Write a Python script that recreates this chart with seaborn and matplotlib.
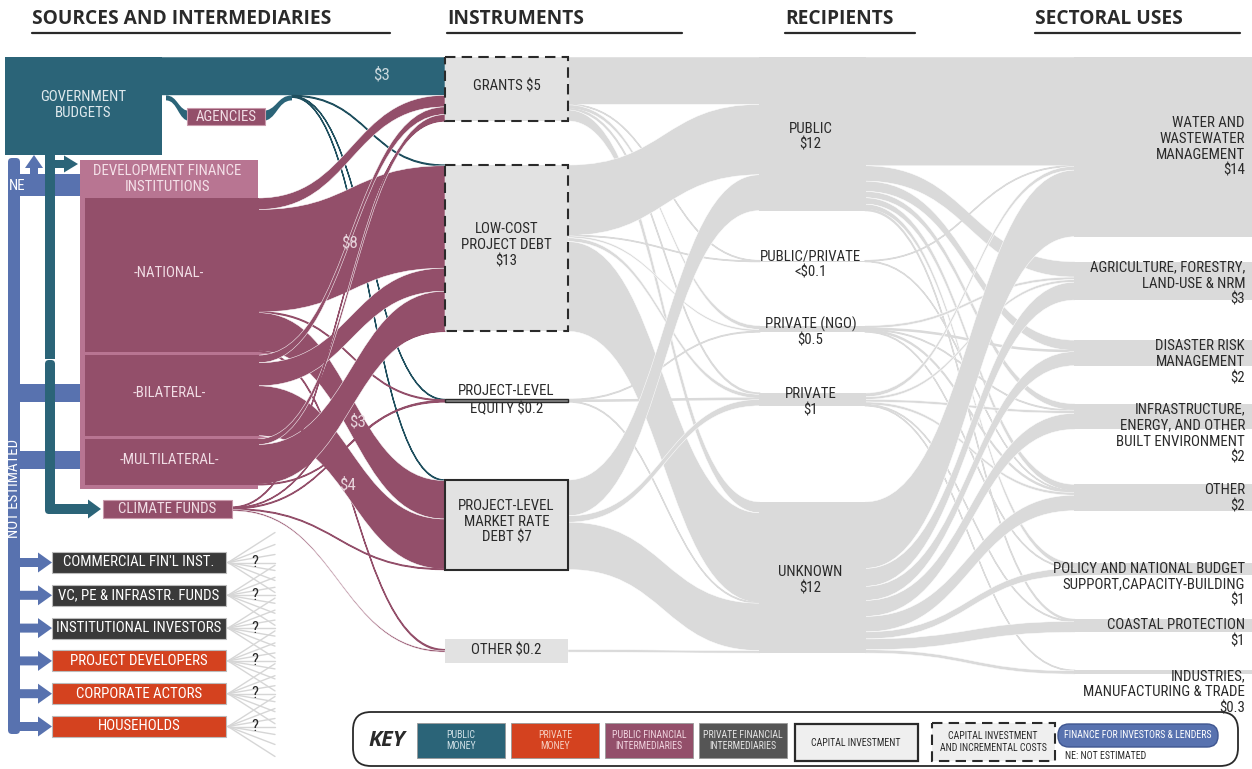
import matplotlib
matplotlib.use("Agg")
import matplotlib.pyplot as plt
import seaborn as sns
from matplotlib import font_manager as fm
from matplotlib.path import Path
from matplotlib.patches import PathPatch, Rectangle, FancyBboxPatch, Polygon

# ---------------- data (USD billion) ----------------
instrument_keys = ["grants", "lowcost", "equity", "market", "other"]
instrument_labels = ["GRANTS $5", "LOW-COST\nPROJECT DEBT\n$13", "PROJECT-LEVEL\nEQUITY $0.2",
                     "PROJECT-LEVEL\nMARKET RATE\nDEBT $7", "OTHER $0.2"]
instrument_styles = ["dashed", "dashed", "line", "solid", "plain"]

source_keys = ["gov", "agencies", "national", "bilateral", "multilateral", "climate"]
source_links = [
    ("gov", "grants", 3.0),
    ("agencies", "lowcost", 0.06), ("agencies", "equity", 0.04), ("agencies", "market", 0.05),
    ("national", "grants", 0.9), ("national", "lowcost", 8.0), ("national", "equity", 0.06),
    ("national", "market", 3.0), ("national", "other", 0.08),
    ("bilateral", "grants", 0.6), ("bilateral", "lowcost", 1.8), ("bilateral", "market", 3.9),
    ("multilateral", "grants", 0.45), ("multilateral", "lowcost", 3.1), ("multilateral", "equity", 0.05),
    ("climate", "grants", 0.05), ("climate", "lowcost", 0.04), ("climate", "equity", 0.05),
    ("climate", "market", 0.05), ("climate", "other", 0.12),
]

recipient_keys = ["public", "pubpriv", "ngo", "private", "unknown"]
recipient_labels = ["PUBLIC\n$12", "PUBLIC/PRIVATE\n<$0.1", "PRIVATE (NGO)\n$0.5", "PRIVATE\n$1", "UNKNOWN\n$12"]
instrument_links = [
    ("grants", "public", 3.7), ("grants", "pubpriv", 0.04), ("grants", "ngo", 0.3),
    ("grants", "private", 0.1), ("grants", "unknown", 0.86),
    ("lowcost", "public", 5.5), ("lowcost", "pubpriv", 0.04), ("lowcost", "ngo", 0.15),
    ("lowcost", "private", 0.3), ("lowcost", "unknown", 7.01),
    ("equity", "ngo", 0.05), ("equity", "private", 0.1), ("equity", "unknown", 0.05),
    ("market", "public", 2.8), ("market", "private", 0.5), ("market", "unknown", 3.7),
    ("other", "unknown", 0.2),
]

sector_keys = ["water", "agri", "disaster", "infra", "other", "policy", "coastal", "industry"]
sector_labels = ["WATER AND\nWASTEWATER\nMANAGEMENT\n$14", "AGRICULTURE, FORESTRY,\nLAND-USE & NRM\n$3",
                 "DISASTER RISK\nMANAGEMENT\n$2", "INFRASTRUCTURE,\nENERGY, AND OTHER\nBUILT ENVIRONMENT\n$2",
                 "OTHER\n$2", "POLICY AND NATIONAL BUDGET\nSUPPORT,CAPACITY-BUILDING\n$1",
                 "COASTAL PROTECTION\n$1", "INDUSTRIES,\nMANUFACTURING & TRADE\n$0.3"]
recipient_links = [
    ("public", "water", 8.5), ("public", "agri", 1.2), ("public", "disaster", 0.8), ("public", "infra", 0.5),
    ("public", "other", 0.5), ("public", "policy", 0.4), ("public", "coastal", 0.1),
    ("pubpriv", "water", 0.04), ("pubpriv", "other", 0.04),
    ("ngo", "agri", 0.2), ("ngo", "disaster", 0.1), ("ngo", "infra", 0.05), ("ngo", "other", 0.1),
    ("ngo", "policy", 0.05),
    ("private", "water", 0.3), ("private", "agri", 0.2), ("private", "infra", 0.2), ("private", "other", 0.21),
    ("private", "coastal", 0.05), ("private", "industry", 0.04),
    ("unknown", "water", 5.2), ("unknown", "agri", 1.4), ("unknown", "disaster", 1.1), ("unknown", "infra", 1.25),
    ("unknown", "other", 1.21), ("unknown", "policy", 0.55), ("unknown", "coastal", 0.85),
    ("unknown", "industry", 0.26),
]

private_sources = ["COMMERCIAL FIN'L INST.", "VC, PE & INFRASTR. FUNDS", "INSTITUTIONAL INVESTORS",
                   "PROJECT DEVELOPERS", "CORPORATE ACTORS", "HOUSEHOLDS"]
private_types = ["intermediary", "intermediary", "intermediary", "money", "money", "money"]

headers = ["SOURCES AND INTERMEDIARIES", "INSTRUMENTS", "RECIPIENTS", "SECTORAL USES"]

# ---------------- style / layout ----------------
sns.set_theme(style="white")
plt.rcParams["font.family"] = ["DejaVu Sans"]

# pick the narrowest installed sans for the condensed labels
names = {f.name for f in fm.fontManager.ttflist}
narrow, stretch = "Roboto", "normal"
for f in fm.fontManager.ttflist:
    if f.name in ("Open Sans", "Noto Sans", "Roboto", "DejaVu Sans") and str(f.stretch) in (
            "condensed", "semi-condensed", "extra-condensed") and str(f.weight) in ("400", "normal", "regular"):
        narrow, stretch = f.name, str(f.stretch)
        break
for n in ["Open Sans Condensed", "Roboto Condensed", "Liberation Sans Narrow"]:
    if n in names:
        narrow, stretch = n, "normal"
if narrow == "Roboto" and "Lato" in names:
    narrow = "Lato"
NARROW = dict(family=[narrow, "DejaVu Sans"], fontstretch=stretch)
HEAD = dict(family=["Open Sans", "DejaVu Sans"])

TEAL, MAROON, PINK = "#2b6478", "#934f6a", "#b87592"
DARK, RED, BLUE = "#3a3a3a", "#d4421f", "#5872af"
GREY, BOXFILL, INK = "#dadada", "#e2e2e2", "#2a2a2a"

SCALE = 12.8   # px per USD bn
TOP = 57
X_INST0, X_INST1 = 445, 568
X_REC0, X_REC1 = 760, 865
X_SEC0 = 1075

fig = plt.figure(figsize=(12.52, 7.69), dpi=100)
ax = fig.add_axes([0, 0, 1, 1])
ax.set_xlim(0, 1252)
ax.set_ylim(769, 0)
ax.axis("off")
renderer = fig.canvas.get_renderer()


def measure(s, size, props, **kw):
    t = ax.text(0, 0, s, fontsize=size, **props, **kw)
    bb = t.get_window_extent(renderer)
    t.remove()
    return bb


def fit_size(s, width, props, **kw):
    return 10 * width / measure(s, 10, props, **kw).width


BODY = fit_size("POLICY AND NATIONAL BUDGET", 192, NARROW)
SMALL = fit_size("PRIVATE FINANCIAL", 80, NARROW)
HSIZE = fit_size("SOURCES AND INTERMEDIARIES", 298, HEAD, fontweight="bold")
KSIZE = fit_size("KEY", 37, HEAD, fontweight="bold", style="italic")
# line pitch of 16.5 px, as in the reference
_pitch = (measure("A\nA", BODY, NARROW, linespacing=1.0).height
          - measure("A", BODY, NARROW, linespacing=1.0).height)
LS = 16.5 / _pitch


def txt(x, y, s, size=None, **kw):
    kw.setdefault("zorder", 10)
    kw.setdefault("linespacing", LS)
    return ax.text(x, y, s, fontsize=size or BODY, **NARROW, **kw)


def band(x0, y0a, y0b, x1, y1a, y1b, color, z=1, ec=None, lw=0.0):
    xm = (x0 + x1) / 2
    verts = [(x0, y0a), (xm, y0a), (xm, y1a), (x1, y1a), (x1, y1b), (xm, y1b), (xm, y0b), (x0, y0b), (x0, y0a)]
    codes = [Path.MOVETO, Path.CURVE4, Path.CURVE4, Path.CURVE4, Path.LINETO,
             Path.CURVE4, Path.CURVE4, Path.CURVE4, Path.CLOSEPOLY]
    ax.add_patch(PathPatch(Path(verts, codes), fc=color, ec=ec or color, lw=lw, zorder=z))


def totals(links, side):
    t = {}
    for s, d, v in links:
        k = s if side == 0 else d
        t[k] = t.get(k, 0) + v
    return t


def column_tops(keys, tot, gaps, top=TOP):
    tops, y = {}, top
    for k, g in zip(keys, [0] + gaps):
        y += g
        tops[k] = y
        y += tot.get(k, 0) * SCALE
    return tops


def stack(links, src_keys, dst_keys, src_top, dst_top):
    so, do = dict(src_top), dict(dst_top)
    y0, y1 = {}, {}
    for i, (s, d, v) in sorted(enumerate(links), key=lambda e: (src_keys.index(e[1][0]), dst_keys.index(e[1][1]))):
        y0[i] = so[s]; so[s] += v * SCALE
    for i, (s, d, v) in sorted(enumerate(links), key=lambda e: (dst_keys.index(e[1][1]), src_keys.index(e[1][0]))):
        y1[i] = do[d]; do[d] += v * SCALE
    return [(s, d, v, y0[i], y1[i]) for i, (s, d, v) in enumerate(links)]


def draw_links(stacked, x0, x1, color_of, z):
    for s, d, v, y0, y1 in stacked:
        h = v * SCALE
        c = color_of(s)
        thin = h < 1.5
        band(x0(s), y0, y0 + h, x1, y1, y1 + h, c, z=z, ec=c if thin else "white", lw=0.9 if thin else 0.35)


# ---------------- column positions ----------------
inst_tot = totals(source_links, 1)
inst_tops = column_tops(instrument_keys, inst_tot, [44, 68, 78, 80])
rec_tot = totals(instrument_links, 1)
rec_tops = column_tops(recipient_keys, rec_tot, [50, 64, 61, 96])
sec_tot = totals(recipient_links, 1)
sec_tops = column_tops(sector_keys, sec_tot, [25, 40, 38, 55, 52, 44, 38])

src_tot = totals(source_links, 0)
src_tops = {"gov": TOP, "agencies": TOP + src_tot["gov"] * SCALE, "national": 198}
src_tops["bilateral"] = src_tops["national"] + src_tot["national"] * SCALE + 3
src_tops["multilateral"] = src_tops["bilateral"] + src_tot["bilateral"] * SCALE + 3
src_tops["climate"] = 509 - src_tot["climate"] * SCALE / 2
src_x = {"gov": 160, "agencies": 292, "national": 258, "bilateral": 258, "multilateral": 258, "climate": 232}

# ---------------- grey flows: instruments -> recipients -> sectors ----------------
draw_links(stack(instrument_links, instrument_keys, recipient_keys, inst_tops, rec_tops),
           lambda s: X_INST1, X_REC0, lambda s: GREY, 1)
draw_links(stack(recipient_links, recipient_keys, sector_keys, rec_tops, sec_tops),
           lambda s: X_REC1, X_SEC0, lambda s: GREY, 1)
for k, lab in zip(recipient_keys, recipient_labels):
    ax.add_patch(Rectangle((X_REC0 - 1, rec_tops[k]), X_REC1 - X_REC0 + 2, max(rec_tot[k] * SCALE, 1.2),
                           fc=GREY, lw=0, zorder=2))
    txt((X_REC0 + X_REC1) / 2 - 2, rec_tops[k] + rec_tot[k] * SCALE / 2 + 3, lab, ha="center",
        va="center", color=INK)
for k, lab in zip(sector_keys, sector_labels):
    ax.add_patch(Rectangle((X_SEC0 - 1, sec_tops[k]), 1252 - X_SEC0 + 1, sec_tot[k] * SCALE,
                           fc=GREY, lw=0, zorder=2))
    if k == "water":
        txt(1245, sec_tops[k] + sec_tot[k] * SCALE / 2, lab, ha="right", va="center", color=INK)
    else:
        txt(1245, sec_tops[k] - 1, lab, ha="right", va="top", color=INK)

# ---------------- coloured flows: sources -> instruments ----------------
src_color = {"gov": TEAL, "agencies": "#1f4f5e", "national": MAROON, "bilateral": MAROON,
             "multilateral": MAROON, "climate": MAROON}
draw_links(stack(source_links, source_keys, instrument_keys, src_tops, inst_tops),
           lambda s: src_x[s], X_INST0, lambda s: src_color[s], 3)

# government budgets and agencies
ax.add_patch(Rectangle((5, TOP), 157, 98, fc=TEAL, lw=0, zorder=4))
band(166, src_tops["agencies"], src_tops["agencies"] + 5, 190, 111, 121, TEAL, z=3)
band(262, 111, 121, 292, src_tops["agencies"], src_tops["agencies"] + 5, TEAL, z=3)
ax.add_patch(Rectangle((187, 108), 78, 17, fc=MAROON, ec="#c99aac", lw=0.8, zorder=5))
txt(83, 105, "GOVERNMENT\nBUDGETS", ha="center", va="center", color="#dfe9ed")
txt(226, 117, "AGENCIES", ha="center", va="center", color="#f1dde5")

# development finance institutions
dfi_bottom = src_tops["multilateral"] + src_tot["multilateral"] * SCALE
ax.add_patch(Rectangle((80, 160), 178, dfi_bottom + 4 - 160, fc=PINK, lw=0, zorder=4))
for k in ["national", "bilateral", "multilateral"]:
    ax.add_patch(Rectangle((85, src_tops[k]), 174, src_tot[k] * SCALE, fc=MAROON, lw=0, zorder=4))
for k in ["bilateral", "multilateral"]:
    y = src_tops[k] - 3
    ax.add_patch(Polygon([(258, y), (268, y + 1.5), (258, y + 3)], fc=PINK, lw=0, zorder=4))
txt(167, 179, "DEVELOPMENT FINANCE\nINSTITUTIONS", ha="center", va="center", color="#f4e0e8",
    linespacing=LS * 0.95)
for k, lab in [("national", "-NATIONAL-"), ("bilateral", "-BILATERAL-"), ("multilateral", "-MULTILATERAL-")]:
    txt(169, src_tops[k] + src_tot[k] * SCALE / 2 - 2, lab, ha="center", va="center", color="#f1dde5")
ax.add_patch(Rectangle((103, 500), 129, 18, fc=MAROON, ec="#c99aac", lw=0.8, zorder=5))
txt(167, 509, "CLIMATE FUNDS", ha="center", va="center", color="#f1dde5")

# flow value labels
for (x, y), lab, c in zip([(382, 75), (350, 243), (358, 422), (348, 485)], ["$3", "$8", "$3", "$4"],
                          ["#c8d7dc", "#e6d2da", "#e6d2da", "#e6d2da"]):
    txt(x, y, lab, size=BODY * 1.15, ha="center", va="center", color=c)

# ---------------- instrument boxes ----------------
for k, lab, st in zip(instrument_keys, instrument_labels, instrument_styles):
    top, h = inst_tops[k], inst_tot[k] * SCALE
    cx = (X_INST0 + X_INST1) / 2
    if st in ("dashed", "solid"):
        ax.add_patch(Rectangle((X_INST0, top), X_INST1 - X_INST0, h, fc=BOXFILL, ec=INK, lw=1.5,
                               ls=(0, (5, 3)) if st == "dashed" else "-", zorder=6))
        txt(cx, top + h / 2 - 3, lab, ha="center", va="center", color=INK)
    elif st == "line":
        ax.add_patch(Rectangle((X_INST0, top), X_INST1 - X_INST0, max(h, 2.5), fc="#888888", ec=INK,
                               lw=1.0, zorder=6))
        l1, l2 = lab.split("\n")
        txt(cx, top - 1, l1, ha="center", va="bottom", color=INK)
        txt(cx, top + 3, l2, ha="center", va="top", color=INK)
    else:
        ax.add_patch(Rectangle((X_INST0, top + h / 2 - 12), X_INST1 - X_INST0, 24, fc=BOXFILL, lw=0,
                               zorder=6))
        txt(cx, top + h / 2, lab, ha="center", va="center", color=INK)


# ---------------- not-estimated pipes ----------------
def arrow_right(x0, x1, y, shaft, head, headlen, color, z=3):
    pts = [(x0, y - shaft / 2), (x1 - headlen, y - shaft / 2), (x1 - headlen, y - head / 2), (x1, y),
           (x1 - headlen, y + head / 2), (x1 - headlen, y + shaft / 2), (x0, y + shaft / 2)]
    ax.add_patch(Polygon(pts, fc=color, lw=0, zorder=z))


box_tops = [552 + i * 32.8 for i in range(len(private_sources))]
ax.add_patch(FancyBboxPatch((8, 158), 12, box_tops[-1] + 18 - 158, boxstyle="round,pad=0,rounding_size=4",
                            fc=BLUE, lw=0, zorder=2))
ax.add_patch(Rectangle((8, 174), 72, 22, fc=BLUE, lw=0, zorder=2))
ax.add_patch(Polygon([(30, 174), (30, 168), (25, 168), (34, 155), (43, 168), (38, 168), (38, 174)],
                     fc=BLUE, lw=0, zorder=2))
txt(17, 186, "NE", ha="center", va="center", color="white")
for k in ["bilateral", "multilateral"]:
    yc = src_tops[k] + src_tot[k] * SCALE / 2 - 2
    ax.add_patch(Rectangle((20, yc - 9), 65, 18, fc=BLUE, lw=0, zorder=2))
txt(14, 488, "NOT ESTIMATED", rotation=90, ha="center", va="center", color="white")

# teal pipe from government budgets
ax.add_patch(Rectangle((45, 155), 10, 359 - 155, fc=TEAL, lw=0, zorder=3))
ax.add_patch(FancyBboxPatch((45, 360), 10, 154, boxstyle="round,pad=0,rounding_size=4", fc=TEAL, lw=0,
                            zorder=3))
arrow_right(50, 101, 509, 10, 19, 13, TEAL)
arrow_right(50, 78, 164, 8, 17, 14, TEAL)

# private sources
for name, kind, top in zip(private_sources, private_types, box_tops):
    cy = top + 10.5
    arrow_right(18, 52, cy, 9, 20, 14, BLUE, z=2)
    ax.add_patch(Rectangle((52, top), 174, 21, fc=DARK if kind == "intermediary" else RED,
                           ec="#bbbbbb", lw=0.8, zorder=5))
    txt(139, cy, name, ha="center", va="center", color="white")
    for d in [-30, -18, -8, 0, 8, 18, 30]:
        ax.plot([228, 275], [cy, cy + d], color="#d6d6d6", lw=1.0, zorder=1)
    txt(255, cy, "?", size=BODY * 1.1, ha="center", va="center", color=INK)

# ---------------- headers ----------------
for lab, x0, x1 in zip(headers, [32, 447, 785, 1035], [390, 682, 915, 1240]):
    ax.text(x0, 19, lab, ha="left", va="center", fontsize=HSIZE, fontweight="bold", color=INK,
            zorder=10, **HEAD)
    ax.plot([x0, x1], [33, 33], color=INK, lw=1.6, zorder=10)

# ---------------- key ----------------
ax.add_patch(FancyBboxPatch((353, 712), 885, 54, boxstyle="round,pad=0,rounding_size=18", fc="white",
                            ec=INK, lw=1.3, zorder=6))
ax.text(387, 740, "KEY", ha="center", va="center", fontsize=KSIZE, fontweight="bold", style="italic",
        color=INK, zorder=10, **HEAD)
key_swatches = [("PUBLIC\nMONEY", TEAL, "#cfe0e6"), ("PRIVATE\nMONEY", RED, "#f6cdbf"),
                ("PUBLIC FINANCIAL\nINTERMEDIARIES", MAROON, "#f0d3de"),
                ("PRIVATE FINANCIAL\nINTERMEDIARIES", "#555555", "#e4e4e4")]
for i, (lab, fc, tc) in enumerate(key_swatches):
    x = 417 + i * 94
    ax.add_patch(Rectangle((x, 723), 88, 35, fc=fc, ec="#999999", lw=0.6, zorder=7))
    txt(x + 44, 740.5, lab, size=SMALL, ha="center", va="center", color=tc, linespacing=1.15)
ax.add_patch(Rectangle((795, 724), 123, 37, fc="#efefef", ec=INK, lw=1.6, zorder=7))
txt(856, 742.5, "CAPITAL INVESTMENT", size=SMALL, ha="center", va="center", color=INK)
ax.add_patch(Rectangle((932, 723), 123, 38, fc="#efefef", ec=INK, lw=1.5, ls=(0, (5, 3)), zorder=7))
txt(993, 742, "CAPITAL INVESTMENT\nAND INCREMENTAL COSTS", size=SMALL, ha="center", va="center",
    color=INK, linespacing=1.15)
ax.add_patch(FancyBboxPatch((1058, 724), 160, 23, boxstyle="round,pad=0,rounding_size=11", fc=BLUE,
                            ec="#3f5690", lw=1.0, zorder=7))
txt(1138, 735.5, "FINANCE FOR INVESTORS & LENDERS", size=SMALL, ha="center", va="center", color="white")
txt(1065, 756, "NE: NOT ESTIMATED", size=SMALL, ha="left", va="center", color=INK)

sns.despine(ax=ax, left=True, bottom=True)
fig.savefig("out.png", dpi=100, facecolor="white")
